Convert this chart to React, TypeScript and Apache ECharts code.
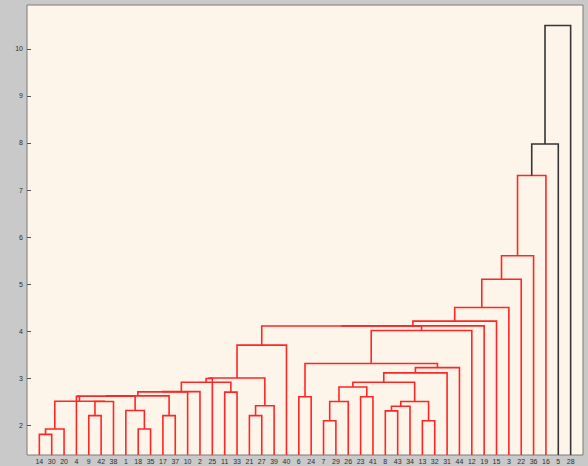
import { useEffect, useRef } from "react";
import * as echarts from "echarts";

// Observations, in the order they sit along the x axis
const leafOrder = [
  14, 30, 20, 4, 9, 42, 38, 1, 18, 35, 17, 37, 10, 2, 25, 11, 33, 21, 27, 39, 40,
  6, 24, 7, 29, 26, 23, 41, 8, 43, 34, 13, 32, 31, 44, 12, 19, 15, 3, 22, 36, 16, 5, 28,
];
const leafCount = 44;

// Linkage rows: [cluster A, cluster B, merge distance].
// Ids 1..44 are observations, id 44 + k is the cluster formed in row k.
const linkage: [number, number, number][] = [
  [14, 30, 1.8],
  [45, 20, 1.915],
  [9, 42, 2.2],
  [47, 38, 2.5],
  [46, 48, 2.505],
  [18, 35, 1.915],
  [1, 50, 2.31],
  [17, 37, 2.2],
  [4, 49, 2.61],
  [53, 51, 2.615],
  [54, 52, 2.62],
  [55, 10, 2.705],
  [56, 2, 2.71],
  [11, 33, 2.7],
  [57, 58, 2.91],
  [21, 27, 2.2],
  [60, 39, 2.41],
  [59, 25, 2.99],
  [62, 61, 3.0],
  [63, 40, 3.7],
  [6, 24, 2.6],
  [7, 29, 2.09],
  [66, 26, 2.5],
  [23, 41, 2.6],
  [67, 68, 2.81],
  [8, 43, 2.3],
  [70, 34, 2.4],
  [13, 32, 2.09],
  [71, 72, 2.5],
  [69, 73, 2.91],
  [74, 31, 3.11],
  [75, 44, 3.22],
  [65, 76, 3.31],
  [77, 12, 4.01],
  [64, 78, 4.105],
  [79, 19, 4.11],
  [80, 15, 4.21],
  [81, 3, 4.5],
  [82, 22, 5.1],
  [83, 36, 5.6],
  [84, 16, 7.31],
  [85, 5, 7.98],
  [86, 28, 10.5],
];

const yTickValues = [2, 3, 4, 5, 6, 7, 8, 9, 10];
const colorThreshold = 7.35;
const Y_MIN = 1.362;
const Y_MAX = 10.936;

const RED = "#ff2626";
const BLACK = "#363636";

function buildLinks() {
  const pos = new Map<number, { x: number; h: number }>();
  leafOrder.forEach((id, i) => pos.set(id, { x: i + 1, h: Y_MIN }));
  return linkage.map(([a, b, h], k) => {
    const pa = pos.get(a)!;
    const pb = pos.get(b)!;
    pos.set(leafCount + k + 1, { x: (pa.x + pb.x) / 2, h });
    return [pa.x, pa.h, pb.x, pb.h, h, h >= colorThreshold ? 1 : 0];
  });
}

export default function App() {
  const ref = useRef<HTMLDivElement>(null);

  useEffect(() => {
    document.body.style.margin = "0";
    const chart = echarts.init(ref.current!, null, { renderer: "svg" });
    const links = buildLinks();
    const font = "'Liberation Sans', Arial, sans-serif";

    chart.setOption({
      animation: false,
      backgroundColor: "#c9c9c9",
      grid: {
        left: 27,
        right: 5,
        top: 5,
        bottom: 11,
        show: true,
        backgroundColor: "#fdf5e9",
        borderColor: "#7a7a7a",
        borderWidth: 1,
      },
      xAxis: {
        type: "value",
        min: 0,
        max: leafCount + 1,
        interval: 1,
        splitLine: { show: false },
        axisLine: { show: false },
        axisTick: { show: false },
        axisLabel: {
          margin: 3,
          fontSize: 7,
          fontFamily: font,
          color: "#2e2e2e",
          formatter: (v: number) =>
            v >= 1 && v <= leafCount ? String(leafOrder[Math.round(v) - 1]) : "",
        },
      },
      yAxis: {
        type: "value",
        min: Y_MIN,
        max: Y_MAX,
        splitLine: { show: false },
        axisLine: { show: false },
        axisTick: {
          show: true,
          inside: true,
          length: 4,
          customValues: yTickValues,
          lineStyle: { color: "#555" },
        },
        axisLabel: {
          margin: 4,
          fontSize: 7,
          fontFamily: font,
          color: "#2e2e2e",
          customValues: yTickValues,
        },
      },
      series: [
        {
          type: "custom",
          clip: true,
          encode: { x: [0, 2], y: [1, 3, 4] },
          data: links,
          renderItem: (_params: any, api: any) => {
            const p1 = api.coord([api.value(0), api.value(1)]);
            const p2 = api.coord([api.value(0), api.value(4)]);
            const p3 = api.coord([api.value(2), api.value(4)]);
            const p4 = api.coord([api.value(2), api.value(3)]);
            return {
              type: "polyline",
              shape: { points: [p1, p2, p3, p4] },
              style: {
                fill: "none",
                stroke: api.value(5) ? BLACK : RED,
                lineWidth: 1.6,
              },
            };
          },
        },
      ],
    });

    return () => chart.dispose();
  }, []);

  return <div ref={ref} style={{ width: 588, height: 466 }} />;
}
